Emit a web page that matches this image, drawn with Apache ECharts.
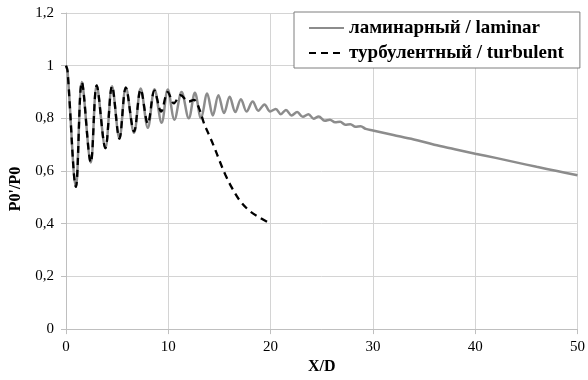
<!DOCTYPE html>
<html>
<head>
<meta charset="utf-8">
<script src="https://cdn.jsdelivr.net/npm/echarts@6/dist/echarts.min.js"></script>
<style>
html,body{margin:0;padding:0;background:#fff;}
#chart{width:588px;height:380px;}
</style>
</head>
<body>
<div id="chart"></div>
<script>
// X/D positions and P0'/P0 values
var laminarX = [0, 0.15, 0.97, 1.55, 2.42, 3.0, 3.85, 4.5, 5.22, 5.85, 6.65, 7.3, 8.0, 8.65, 9.35, 9.95, 10.6, 11.3, 12.0, 12.6, 13.2, 13.8, 14.35, 14.9, 15.45, 16.0, 16.55, 17.1, 17.65, 18.25, 18.8, 19.4, 19.95, 20.5, 21.0, 21.5, 22.05, 22.6, 23.15, 23.7, 24.2, 24.7, 25.3, 25.8, 26.3, 26.8, 27.3, 27.8, 28.3, 28.8, 29.3, 30, 32, 34, 36, 38, 40, 42, 44, 46, 48, 50];
var laminarY = [1.0, 0.98, 0.54, 0.938, 0.632, 0.925, 0.687, 0.922, 0.723, 0.917, 0.745, 0.913, 0.764, 0.911, 0.783, 0.91, 0.795, 0.90, 0.80, 0.897, 0.80, 0.894, 0.811, 0.888, 0.82, 0.882, 0.824, 0.873, 0.826, 0.864, 0.829, 0.853, 0.826, 0.836, 0.816, 0.832, 0.811, 0.824, 0.806, 0.816, 0.799, 0.807, 0.791, 0.795, 0.785, 0.787, 0.776, 0.778, 0.768, 0.77, 0.76, 0.754, 0.737, 0.72, 0.70, 0.683, 0.666, 0.65, 0.633, 0.616, 0.60, 0.584];
var turbulentX = [0, 0.15, 0.97, 1.55, 2.42, 3.0, 3.85, 4.5, 5.22, 5.85, 6.65, 7.3, 8.0, 8.65, 9.3, 9.95, 10.55, 11.2, 12.0, 12.5, 13.0, 13.5, 14.1, 14.5, 15.0, 15.6, 16.25, 17.05, 18.0, 19.0, 19.7];
var turbulentY = [1.0, 0.98, 0.54, 0.938, 0.632, 0.925, 0.687, 0.922, 0.723, 0.917, 0.75, 0.91, 0.78, 0.905, 0.826, 0.90, 0.857, 0.888, 0.864, 0.87, 0.839, 0.78, 0.727, 0.69, 0.64, 0.584, 0.534, 0.485, 0.447, 0.422, 0.406];
var seriesNames = ['ламинарный / laminar', 'турбулентный / turbulent'];
var yTickLabels = ['0', '0,2', '0,4', '0,6', '0,8', '1', '1,2'];
var xTickLabels = ['0', '10', '20', '30', '40', '50'];

function pairs(xs, ys) {
  return xs.map(function (x, i) { return [x, ys[i]]; });
}

var serif = 'Liberation Serif';
var chart = echarts.init(document.getElementById('chart'), null, {renderer: 'canvas'});
chart.setOption({
  animation: false,
  backgroundColor: '#ffffff',
  grid: {left: 66, right: 7, top: 13, bottom: 45, containLabel: false},
  legend: {
    orient: 'vertical',
    left: 294,
    top: 12,
    padding: [6, 16, 5, 14],
    itemGap: 5,
    itemWidth: 35,
    itemHeight: 12,
    backgroundColor: '#ffffff',
    borderColor: '#7f7f7f',
    borderWidth: 1,
    borderRadius: 0,
    itemStyle: {opacity: 0},
    textStyle: {fontFamily: serif, fontWeight: 'bold', fontSize: 19, lineHeight: 20, color: '#000'},
    data: seriesNames
  },
  xAxis: {
    type: 'value', min: 0, max: 50, interval: 10,
    name: 'X/D', nameLocation: 'middle', nameGap: 24,
    nameTextStyle: {fontFamily: serif, fontWeight: 'bold', fontSize: 16, color: '#000'},
    axisLine: {show: true, lineStyle: {color: '#bfbfbf', width: 1}},
    axisTick: {show: true, length: 5, lineStyle: {color: '#bfbfbf'}},
    axisLabel: {fontFamily: serif, fontSize: 15, color: '#000', margin: 10,
      formatter: function (v, i) { return xTickLabels[i]; }},
    splitLine: {show: true, lineStyle: {color: '#d4d4d4', width: 1}}
  },
  yAxis: {
    type: 'value', min: 0, max: 1.2, interval: 0.2,
    name: "P0'/P0", nameLocation: 'middle', nameGap: 34,
    nameTextStyle: {fontFamily: serif, fontWeight: 'bold', fontSize: 16, color: '#000', padding: [0, 36, 0, 0]},
    axisLine: {show: true, lineStyle: {color: '#bfbfbf', width: 1}},
    axisTick: {show: true, length: 5, lineStyle: {color: '#bfbfbf'}},
    axisLabel: {fontFamily: serif, fontSize: 15, color: '#000', margin: 12,
      formatter: function (v, i) { return yTickLabels[i]; }},
    splitLine: {show: true, lineStyle: {color: '#d4d4d4', width: 1}}
  },
  series: [
    {
      name: seriesNames[0], type: 'line', data: pairs(laminarX, laminarY),
      showSymbol: false, symbol: 'none', smooth: 0.35,
      lineStyle: {color: '#8c8c8c', width: 2.5},
      itemStyle: {color: '#8c8c8c'}
    },
    {
      name: seriesNames[1], type: 'line', data: pairs(turbulentX, turbulentY),
      showSymbol: false, symbol: 'none', smooth: 0.35,
      lineStyle: {color: '#000000', width: 2.3, type: [7, 5]},
      itemStyle: {color: '#000000'}
    }
  ]
});
</script>
</body>
</html>
